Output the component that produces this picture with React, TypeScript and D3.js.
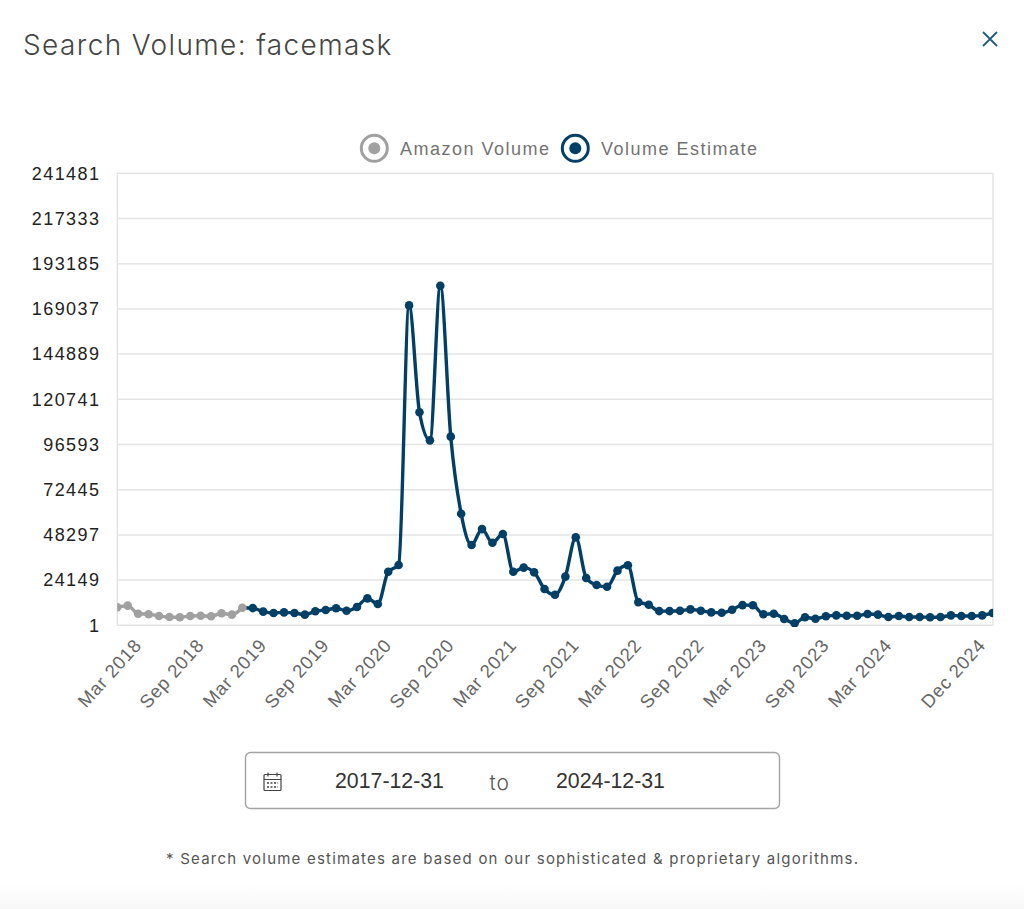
import { useEffect, useRef } from 'react';
import * as d3 from 'd3';

const months = d3.timeMonth.range(new Date(2017, 11, 1), new Date(2025, 0, 1));

const amazonVolume = [
  9600, 10500, 6200, 5900, 5000, 4400, 4300, 5000, 5100, 4800, 6400, 5700, 9400,
];

const volumeEstimate = [
  9200, 7300, 6600, 6900, 6600, 5700, 7500, 8200, 9100, 7800, 9800, 14400,
  11400, 28600, 32200, 170900, 113800, 98800, 181400, 100800, 59600, 42900,
  51400, 44100, 48800, 28600, 30800, 28300, 19400, 16300, 26000, 47000,
  25300, 21500, 20600, 29200, 32100, 12400, 11000, 7600, 7600, 7800, 8500,
  7800, 6900, 6700, 8300, 10800, 10700, 5900, 6200, 3400, 1100, 4300, 3500,
  4800, 5300, 5100, 5100, 6000, 5700, 4400, 5000, 4400, 4400, 4300, 4400,
  5300, 5000, 5000, 5300, 6600,
];

const yTicks = [1, 24149, 48297, 72445, 96593, 120741, 144889, 169037, 193185, 217333, 241481];
const xTickIndexes = [3, 9, 15, 21, 27, 33, 39, 45, 51, 57, 63, 69, 75, 84];

const BLUE = '#023f66';
const GREY = '#a0a0a0';
const GRID = '#e4e4e4';
const HELV = '"Liberation Sans", Arial, sans-serif';
const TITLE_FONT = 'Inter, "Noto Sans", sans-serif';

export default function App() {
  const ref = useRef<SVGSVGElement>(null);

  useEffect(() => {
    if (!ref.current) return;
    const svg = d3.select(ref.current);
    svg.selectAll('*').remove();

    const x = d3.scalePoint<number>()
      .domain(months.map((_, i) => i))
      .range([117.3, 992.6]);
    const y = d3.scaleLinear().domain([1, 241481]).range([625.3, 173.3]);

    const defs = svg.append('defs');
    defs.append('clipPath').attr('id', 'plot')
      .append('rect')
      .attr('x', 117.3).attr('y', 165).attr('width', 875.8).attr('height', 462);
    const fade = defs.append('linearGradient').attr('id', 'fade')
      .attr('x1', 0).attr('x2', 0).attr('y1', 0).attr('y2', 1);
    fade.append('stop').attr('offset', 0).attr('stop-color', '#fff');
    fade.append('stop').attr('offset', 1).attr('stop-color', '#f7f7f7');

    svg.append('rect')
      .attr('x', 0).attr('y', 885).attr('width', 1024).attr('height', 24)
      .attr('fill', 'url(#fade)');

    // Title and close icon
    svg.append('text')
      .attr('x', 23).attr('y', 55)
      .attr('font-family', TITLE_FONT)
      .attr('font-size', 28)
      .attr('font-weight', 300)
      .attr('letter-spacing', 1.37)
      .attr('fill', '#454545')
      .text('Search Volume: facemask');

    svg.append('path')
      .attr('d', 'M983,32L997,46M997,32L983,46')
      .attr('stroke', '#1f5d85')
      .attr('stroke-width', 1.8)
      .attr('fill', 'none');

    // Grid
    svg.append('g').selectAll('line')
      .data(yTicks)
      .join('line')
      .attr('x1', 117.3)
      .attr('x2', 993)
      .attr('y1', d => y(d))
      .attr('y2', d => y(d))
      .attr('stroke', GRID)
      .attr('stroke-width', 1.5);

    svg.append('g').selectAll('line')
      .data([117.3, 993])
      .join('line')
      .attr('x1', d => d)
      .attr('x2', d => d)
      .attr('y1', 173.3)
      .attr('y2', 625.3)
      .attr('stroke', GRID)
      .attr('stroke-width', 1.5);

    // Y labels
    svg.append('g').selectAll('text')
      .data(yTicks)
      .join('text')
      .attr('x', 100.5)
      .attr('y', d => y(d))
      .attr('dy', '0.35em')
      .attr('text-anchor', 'end')
      .attr('font-family', HELV)
      .attr('font-size', 18)
      .attr('letter-spacing', 1.45)
      .attr('fill', '#222')
      .text(d => d);

    // X labels
    const fmt = d3.timeFormat('%b %Y');
    svg.append('g').selectAll('text')
      .data(xTickIndexes)
      .join('text')
      .attr('transform', i => `translate(${x(i)! - 6},${646}) rotate(-48)`)
      .attr('text-anchor', 'end')
      .attr('font-family', HELV)
      .attr('font-size', 18.5)
      .attr('letter-spacing', 0.8)
      .attr('fill', '#666')
      .text(i => fmt(months[i]));

    const line = d3.line<[number, number]>()
      .x(d => x(d[0])!)
      .y(d => y(d[1]))
      .curve(d3.curveMonotoneX);

    const amazonPts = amazonVolume.map((v, i) => [i, v] as [number, number]);
    const estimatePts = volumeEstimate.map((v, i) => [i + amazonVolume.length, v] as [number, number]);
    const plot = svg.append('g').attr('clip-path', 'url(#plot)');

    plot.append('path')
      .attr('d', line([amazonPts[amazonPts.length - 1], ...estimatePts]))
      .attr('fill', 'none')
      .attr('stroke', BLUE)
      .attr('stroke-width', 3.4);

    plot.append('path')
      .attr('d', line(amazonPts))
      .attr('fill', 'none')
      .attr('stroke', GREY)
      .attr('stroke-width', 3.4);

    plot.append('g').selectAll('circle')
      .data(estimatePts)
      .join('circle')
      .attr('cx', d => x(d[0])!)
      .attr('cy', d => y(d[1]))
      .attr('r', 4.3)
      .attr('fill', BLUE);

    plot.append('g').selectAll('circle')
      .data(amazonPts)
      .join('circle')
      .attr('cx', d => x(d[0])!)
      .attr('cy', d => y(d[1]))
      .attr('r', 4.3)
      .attr('fill', GREY);

    // Legend
    const legend = [
      { label: 'Amazon Volume', color: GREY, cx: 374.3, tx: 400 },
      { label: 'Volume Estimate', color: BLUE, cx: 575.3, tx: 601 },
    ];
    const items = svg.append('g').selectAll('g').data(legend).join('g');
    items.append('circle')
      .attr('cx', d => d.cx).attr('cy', 148.3).attr('r', 13)
      .attr('fill', 'none').attr('stroke', d => d.color).attr('stroke-width', 3);
    items.append('circle')
      .attr('cx', d => d.cx).attr('cy', 148.3).attr('r', 6)
      .attr('fill', d => d.color);
    items.append('text')
      .attr('x', d => d.tx).attr('y', 154.5)
      .attr('font-family', HELV)
      .attr('font-size', 18)
      .attr('letter-spacing', 1.5)
      .attr('fill', '#737373')
      .text(d => d.label);

    // Date range box
    svg.append('rect')
      .attr('x', 245.5).attr('y', 752.5).attr('width', 534).attr('height', 56)
      .attr('rx', 5)
      .attr('fill', '#fff')
      .attr('stroke', '#a3a3a3')
      .attr('stroke-width', 1.4);

    const cal = svg.append('g').attr('fill', 'none').attr('stroke', '#444').attr('stroke-width', 1.2);
    cal.append('rect').attr('x', 264).attr('y', 774.5).attr('width', 17).attr('height', 16).attr('rx', 1);
    cal.append('path').attr('d', 'M264,779.5H281M268,772.5V776.5M277,772.5V776.5');
    cal.append('path')
      .attr('d', 'M267,783H278M267,787H278')
      .attr('stroke-dasharray', '2 1.5')
      .attr('stroke-width', 1.6);

    svg.append('g').selectAll('text')
      .data([{ t: '2017-12-31', x: 335 }, { t: '2024-12-31', x: 556 }])
      .join('text')
      .attr('x', d => d.x)
      .attr('y', 787.5)
      .attr('font-family', HELV)
      .attr('font-size', 21.3)
      .attr('fill', '#333')
      .text(d => d.t);

    svg.append('text')
      .attr('x', 489.5).attr('y', 790)
      .attr('font-family', TITLE_FONT)
      .attr('font-size', 21)
      .attr('font-weight', 300)
      .attr('letter-spacing', 1)
      .attr('fill', '#555')
      .text('to');

    svg.append('text')
      .attr('x', 166).attr('y', 864)
      .attr('font-family', TITLE_FONT)
      .attr('font-size', 15)
      .attr('letter-spacing', 1.22)
      .attr('fill', '#555')
      .text('* Search volume estimates are based on our sophisticated & proprietary algorithms.');
  }, []);

  return (
    <svg
      ref={ref}
      width={1024}
      height={909}
      style={{ position: 'absolute', left: 0, top: 0, background: '#fff' }}
    />
  );
}
